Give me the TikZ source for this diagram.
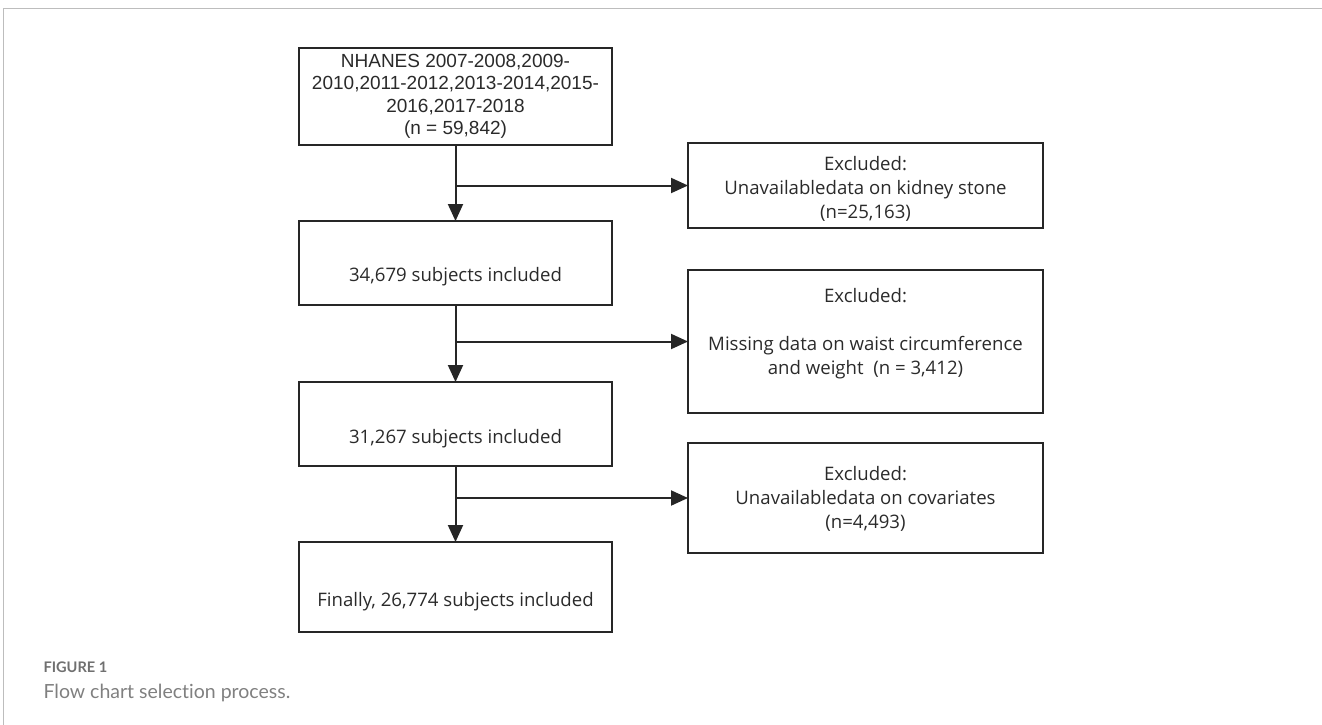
\documentclass[tikz,border=0pt]{standalone}
\usepackage{fontspec}
\setmainfont{Open Sans}
\newfontfamily\arialfont{Liberation Sans}
\newfontfamily\capfont[Ligatures={NoCommon,NoRare,NoDiscretionary}]{Lato}
\usetikzlibrary{arrows.meta}
\definecolor{linec}{HTML}{262626}
\definecolor{textc}{HTML}{2A2A2A}
\definecolor{capgray}{HTML}{808080}
\definecolor{capdark}{HTML}{707070}
\definecolor{framegray}{HTML}{BDBDBD}
\tikzset{
  box/.style={draw=linec, line width=2.2pt, minimum width=313pt, inner sep=0pt, outer sep=0pt},
  exbox/.style={draw=linec, line width=2.2pt, minimum width=355pt, inner sep=0pt, outer sep=0pt},
  btext/.style={text=textc, font=\fontsize{18.6}{24}\selectfont, align=center},
  conn/.style={draw=linec, line width=2pt},
  arr/.style={conn, -{Triangle[length=17pt,width=15pt]}}
}
\begin{document}
\begin{tikzpicture}[x=1pt,y=-1pt]
\useasboundingbox (0,0) rectangle (1322,725);
% frame lines
\draw[framegray, line width=1pt] (3,9) -- (1322,9);
\draw[framegray, line width=1pt] (3,9) -- (3,725);
% left column
\node[box, minimum height=97pt, text=textc, align=center, font=\arialfont\fontsize{19}{22.5}\selectfont] (top) at (455.5,96.5)
  {NHANES 2007-2008,2009-\\2010,2011-2012,2013-2014,2015-\\2016,2017-2018\\(n = 59,842)};
\node[box, minimum height=84pt, label={[btext, yshift=-14pt]center:34,679 subjects included}] (b2) at (455.5,263) {};
\node[box, minimum height=84pt, label={[btext, yshift=-15pt]center:31,267 subjects included}] (b3) at (455.5,424) {};
\node[box, minimum height=90pt, label={[btext, yshift=-15pt]center:Finally, 26,774 subjects included}] (b4) at (455.5,587) {};
% right column
\node[exbox, minimum height=85pt, label={[btext, yshift=-3pt]center:Excluded:\\Unavailabledata on kidney stone\\(n=25,163)}] (r1) at (865.5,185.5) {};
\node[exbox, minimum height=143pt, label={[btext, yshift=8pt]center:Excluded:\\[24pt]Missing data on waist circumference\\and weight~~(n = 3,412)}] (r2) at (865.5,341.5) {};
\node[exbox, minimum height=110pt, label={[btext, yshift=-1pt]center:Excluded:\\Unavailabledata on covariates\\(n=4,493)}] (r3) at (865.5,498) {};
% branch points
\coordinate (j1) at (455.5,185.5);
\coordinate (j2) at (455.5,341.5);
\coordinate (j3) at (455.5,498);
% connectors
\draw[arr] (top.south) -- (b2.north);
\draw[arr] (b2.south) -- (b3.north);
\draw[arr] (b3.south) -- (b4.north);
\draw[arr] (j1) -- (r1.west);
\draw[arr] (j2) -- (r2.west);
\draw[arr] (j3) -- (r3.west);
% caption
\node[anchor=base west, text=capdark, font=\capfont\bfseries\fontsize{14.6}{17}\selectfont] (figlab) at (40,672) {FIGURE 1};
\node[anchor=base west, text=capgray, font=\capfont\fontsize{19.5}{23}\selectfont] (figcap) at (40,698) {Flow chart selection process.};
\end{tikzpicture}
\end{document}
